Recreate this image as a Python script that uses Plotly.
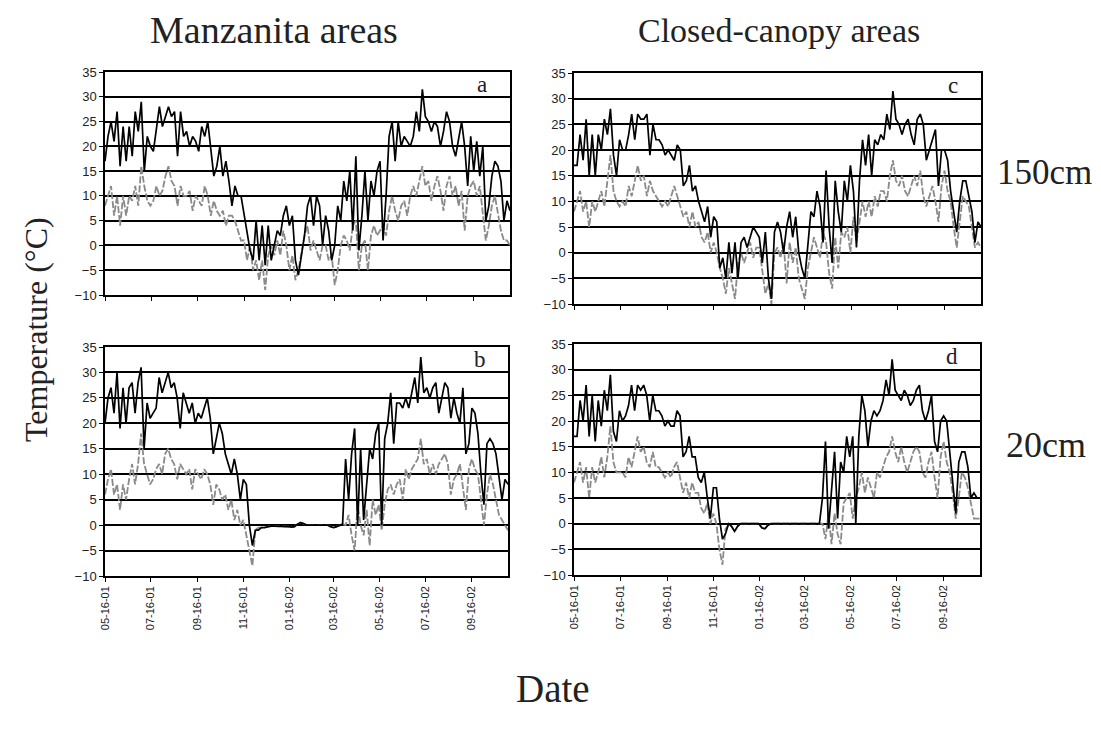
import pandas as pd
import plotly.graph_objects as go

# ---- data (4-day samples, 2001-05-16 .. 2002-11-03) ----
dates = pd.date_range("2001-05-16", periods=135, freq="4D")

tick_dates = ["2001-05-16", "2001-07-16", "2001-09-16", "2001-11-16", "2002-01-16",
              "2002-03-16", "2002-05-16", "2002-07-16", "2002-09-16"]
tick_labels = ["05-16-01", "07-16-01", "09-16-01", "11-16-01", "01-16-02",
               "03-16-02", "05-16-02", "07-16-02", "09-16-02"]

# a: Manzanita 150cm
a_max = [17, 22, 25, 21, 27, 16, 24, 17, 24, 18, 27, 23, 29, 15, 22, 20,
         19, 23, 28, 24, 26, 28, 26, 27, 18, 27, 22, 23, 20, 22, 21,
         19, 24, 22, 25, 19, 14, 16, 20, 14, 17, 13, 8, 12, 10, 10, 6,
         3, -1, -3, 5, -3, 4, -4, 4, -3, 0, 3, 2, 6, 8, 4,
         6, -3, -6, -2, 2, 8, 10, 4, 10, 8, 0, 6, 3, -3, 0,
         8, 5, 13, 9, 15, 3, 18, -1, 6, 15, 5, 13, 10, 15, 17,
         1, 10, 22, 25, 17, 25, 20, 22, 21, 20, 22, 27, 23, 31.5, 26,
         25, 23, 25, 24, 20, 23, 27, 25, 20, 18, 22, 25, 20, 12, 22, 15,
         21, 14, 20, 5, 8, 14, 17, 16, 13, 5, 9, 7]
a_min = [8, 10, 12, 6, 10, 4, 10, 6, 10, 9, 12, 8, 16, 12, 9, 8,
         9, 12, 10, 11, 14, 16, 13, 12, 8, 12, 10, 10, 11, 7, 10,
         9, 8, 12, 10, 6, 9, 7, 6, 7, 4, 6, 6, 5, 3, 1, 1,
         -3, 0, -5, -3, -7, -3, -9, -2, 0, -2, 1, -2, 3, 0, -5,
         -2, -7, -5, -1, 2, 4, -1, 1, -1, -3, 0, 0, -3, -2, -8,
         -5, 0, 2, 1, -1, 4, 5, -5, 0, 1, -5, 2, 4, 2, 3,
         4, 2, 7, 10, 7, 5, 8, 9, 6, 10, 12, 10, 13, 16, 12,
         13, 9, 12, 14, 11, 7, 12, 14, 10, 12, 8, 11, 3, 10, 12, 13,
         10, 12, 7, 1, 4, 8, 10, 6, 3, 1, 1, 0]

# c: Closed-canopy 150cm
c_max = [17, 17, 23, 18, 26, 15, 23, 15, 23, 20, 26, 23, 28, 19, 15, 22,
         20, 20, 23, 27, 22, 27, 26, 26, 27, 19, 25, 22, 22, 21, 19,
         20, 19, 18, 21, 20, 13, 14, 17, 12, 13, 10, 8, 6, 9, 3, 7,
         6, -3, -1, -5, 2, -4, 2, -5, 2, 3, 1, 3, 5, 4, 3,
         -2, 4, -5, -9, 4, 6, 4, 0, 5, 8, 3, 7, 0, -3, -5,
         2, 8, 7, 12, 9, 2, 16, 5, -2, 14, 8, 4, 14, 10, 17,
         12, 1, 14, 22, 17, 23, 15, 22, 21, 23, 22, 27, 24, 31.5, 26,
         25, 23, 25, 26, 23, 21, 26, 27, 25, 18, 20, 22, 24, 13, 20, 20,
         18, 12, 8, 4, 10, 14, 14, 11, 8, 2, 6, 5]
c_min = [8, 10, 12, 8, 10, 5, 10, 8, 10, 12, 9, 14, 19, 12, 10, 9,
         10, 9, 13, 11, 14, 17, 14, 15, 11, 14, 12, 11, 10, 9, 10,
         9, 11, 13, 11, 9, 7, 8, 5, 8, 5, 6, 3, 2, 4, 0, 2,
         0, -3, -5, -8, -3, -6, -9, -2, 0, -2, 0, 2, -1, 1, 1,
         -3, -8, -6, -10, 0, 1, -1, 2, -6, 2, -2, 1, -5, -7, -9,
         -3, 0, 3, 1, -1, 4, 2, -4, -7, 3, -3, 4, 3, 5, 0,
         7, 2, 6, 10, 7, 10, 7, 11, 9, 12, 12, 10, 15, 18, 14,
         13, 15, 12, 11, 13, 15, 13, 16, 11, 9, 11, 13, 10, 6, 13, 16,
         12, 10, 5, 1, 6, 11, 10, 9, 5, 1, 2, 1]

# b: Manzanita 20cm
b_max = [20, 25, 27, 22, 30, 19, 27, 20, 27, 28, 22, 28, 31, 15, 24, 21,
         22, 23, 29, 26, 28, 30, 27, 28, 25, 19, 26, 24, 22, 24, 20,
         22, 21, 23, 25, 21, 14, 17, 20, 18, 14, 12, 10, 13, 10, 5, 9,
         8, 0, -4, -1, -1, -0.5, -0.5, -0.3, -0.2, -0.2, -0.2, -0.2, -0.3, -0.3, -0.3,
         -0.4, -0.3, 0.2, 0.5, 0.3, 0, 0, 0, 0, 0, 0, 0, 0, -0.3, -0.5,
         -0.3, 0, 0.2, 13, 5, 14, 19, 0, 15, 1, 8, 15, 13, 18, 20,
         0, 17, 20, 26, 16, 24, 24, 23, 25, 23, 26, 29, 24, 33, 26,
         27, 25, 27, 28, 22, 25, 28, 27, 21, 25, 22, 20, 27, 14, 16, 23,
         22, 18, 10, 4, 16, 17, 16, 14, 10, 5, 9, 8]
b_min = [6, 9, 11, 6, 8, 3, 8, 5, 9, 12, 8, 12, 18, 12, 10, 8,
         9, 11, 12, 10, 14, 15, 13, 12, 9, 12, 11, 10, 11, 7, 11,
         10, 9, 11, 10, 8, 4, 8, 7, 5, 6, 3, 5, 1, 3, 0, 1,
         -2, -5, -8, -1, -0.5, -0.5, -0.5, -0.3, -0.2, -0.2, -0.2, -0.2, -0.3, -0.3, -0.3,
         -0.4, -0.3, 0.2, 0.5, 0.3, 0, 0, 0, 0, 0, 0, 0, 0, -0.3, -0.5,
         -0.3, 0, 0.2, 0, 2, -2, -5, 4, 0, -2, 3, -4, 5, 2, 4,
         -1, 4, 7, 8, 6, 8, 9, 5, 11, 9, 11, 12, 13, 17, 12,
         13, 10, 12, 10, 12, 13, 14, 12, 6, 9, 10, 12, 8, 3, 11, 13,
         11, 10, 5, 0, 6, 10, 8, 5, 2, 1, 0, -1]

# d: Closed-canopy 20cm
d_max = [17, 17, 24, 20, 27, 17, 25, 16, 24, 19, 26, 22, 29, 18, 16, 22,
         20, 21, 23, 27, 22, 27, 26, 27, 25, 20, 25, 22, 22, 21, 19,
         20, 19, 19, 22, 21, 13, 14, 17, 13, 13, 9, 8, 10, 5, 1, 7,
         7, 1, -3, -2, 0, -0.5, -1.5, -0.5, 0, 0, 0, 0, 0, 0, 0,
         -0.8, -1, -0.3, 0, 0, 0, 0, 0, 0, 0, 0, 0, 0, 0, 0,
         0, 0, 0, 0, 0, 5, 16, -1, 6, 14, 1, 12, 10, 17, 13,
         17, 0, 17, 25, 22, 15, 20, 22, 21, 22, 24, 28, 25, 32, 26,
         25, 24, 26, 25, 23, 24, 26, 27, 22, 20, 22, 25, 16, 14, 20, 21,
         20, 14, 8, 2, 12, 14, 14, 11, 5, 6, 5, 5]
d_min = [8, 10, 12, 8, 11, 5, 11, 8, 10, 13, 9, 13, 19, 12, 10, 10,
         10, 9, 13, 11, 14, 17, 14, 15, 12, 11, 14, 11, 11, 10, 9,
         10, 9, 11, 12, 9, 6, 8, 5, 8, 6, 6, 3, 2, 4, 0, 2,
         0, -5, -8, -1, -0.3, -0.5, -1.5, -0.5, 0, 0, 0, 0, 0, 0, 0,
         -0.8, -1, -0.3, 0, 0, 0, 0, 0, 0, 0, 0, 0, 0, 0, 0,
         0, 0, 0, 0, 0, 0, -3, 2, -4, 2, -2, -4, 4, 5, 6,
         1, 5, 7, 10, 6, 9, 7, 5, 10, 9, 11, 13, 14, 17, 14,
         12, 15, 12, 10, 12, 14, 15, 14, 10, 9, 12, 14, 9, 5, 13, 16,
         12, 10, 6, 1, 5, 10, 9, 7, 4, 1, 1, 1]

panels = [
    (a_max, a_min, "", (105, 510), (72, 295), "a", False),
    (c_max, c_min, "2", (574, 981), (73, 304), "c", False),
    (b_max, b_min, "3", (105, 508), (347, 576), "b", True),
    (d_max, d_min, "4", (574, 980), (344, 575), "d", True),
]

# page body has an 8px margin: figure is drawn 8px in from the window edge
OFF = 8
W, H = 1101 - OFF, 730 - OFF


def px(x):
    return (x - OFF) / W


def py(y):
    return 1 - (y - OFF) / H


fig = go.Figure()
layout = dict(width=W, height=H, margin=dict(l=0, r=0, t=0, b=0, pad=0, autoexpand=False),
              paper_bgcolor="white", plot_bgcolor="white", showlegend=False)

annotations = []
for mx, mn, sfx, (x0, x1), (y0, y1), letter, labels in panels:
    xa = "x" + sfx
    ya = "y" + sfx
    fig.add_trace(go.Scatter(x=dates, y=mn, mode="lines", xaxis=xa, yaxis=ya,
                             line=dict(color="#8a8a8a", width=1.8, dash="7px,2px")))
    fig.add_trace(go.Scatter(x=dates, y=mx, mode="lines", xaxis=xa, yaxis=ya,
                             line=dict(color="black", width=1.7)))
    layout["xaxis" + sfx] = dict(
        domain=[px(x0), px(x1)], anchor=ya, automargin=False,
        range=[dates[0], dates[-1]],
        tickmode="array", tickvals=tick_dates, ticktext=tick_labels,
        showticklabels=labels, tickangle=-90,
        tickfont=dict(family="Liberation Sans, Arial", size=11, color="#222"),
        ticks="outside", ticklen=4, tickcolor="black", tickwidth=1,
        showgrid=False, zeroline=False,
        showline=True, linecolor="black", linewidth=1.5, mirror=True,
    )
    layout["yaxis" + sfx] = dict(
        domain=[py(y1), py(y0)], anchor=xa, automargin=False,
        range=[-10, 35], tickmode="linear", tick0=-10, dtick=5,
        tickfont=dict(family="Liberation Sans, Arial", size=13, color="#222"),
        ticks="outside", ticklen=4, tickcolor="black", tickwidth=1,
        showgrid=True, gridcolor="black", gridwidth=1.5, zeroline=False,
        showline=True, linecolor="black", linewidth=1.5, mirror=True,
    )
    annotations.append(dict(text=letter, xref=xa + " domain", yref=ya + " domain",
                            x=0.93, y=1.01, xanchor="center", yanchor="top",
                            showarrow=False,
                            font=dict(family="Liberation Serif", size=23, color="#222")))

serif = "Liberation Serif, Times New Roman, serif"
texts = [
    ("Manzanita areas", 274, 30, 0, 38),
    ("Closed-canopy areas", 779, 30, 0, 34),
    ("150cm", 1044, 172, 0, 35),
    ("20cm", 1046, 445, 0, 36),
    ("Temperature (°C)", 36, 330, -90, 32),
    ("Date", 553, 688, 0, 39),
]
for t, x, y, ang, size in texts:
    annotations.append(dict(text=t, xref="paper", yref="paper", x=px(x), y=py(y),
                            xanchor="center", yanchor="middle", showarrow=False,
                            textangle=ang, font=dict(family=serif, size=size, color="#222")))

layout["annotations"] = annotations
fig.update_layout(**layout)
fig.write_html("out.html")
